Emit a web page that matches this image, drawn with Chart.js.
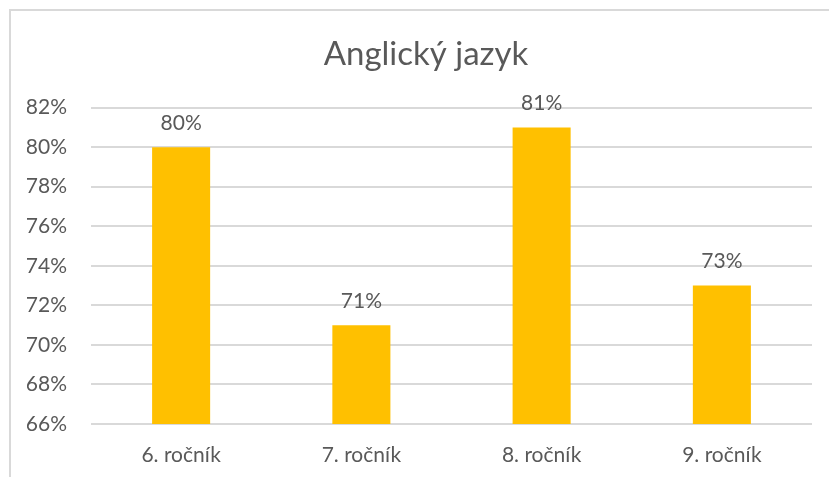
<!DOCTYPE html>
<html>
<head>
<meta charset="utf-8">
<script src="https://cdn.jsdelivr.net/npm/chart.js@4.4.1/dist/chart.umd.min.js"></script>
<style>
  html, body { margin: 0; padding: 0; background: #fff; overflow: hidden; }
  #wrap { position: relative; width: 829px; height: 477px; }
  #frame { position: absolute; left: 9px; top: 9px; width: 840px; height: 490px;
           border-left: 2px solid #d9d9d9; border-top: 2px solid #d9d9d9; box-sizing: border-box; pointer-events: none; }
  canvas { position: absolute; left: 0; top: 0; }
</style>
</head>
<body>
<div id="wrap">
  <canvas id="c" width="829" height="477"></canvas>
  <div id="frame"></div>
</div>
<script>
const titleText = "Anglický jazyk";
const categories = ["6. ročník", "7. ročník", "8. ročník", "9. ročník"];
const values = [80, 71, 81, 73];
const yMin = 66, yMax = 82, yStep = 2;

const textColor = "#595959";
const fontFamily = "Lato, 'Open Sans', sans-serif";

const dataLabels = {
  id: "dataLabels",
  afterDatasetsDraw(chart) {
    const ctx = chart.ctx;
    const meta = chart.getDatasetMeta(0);
    ctx.save();
    ctx.fillStyle = textColor;
    ctx.font = "21px " + fontFamily;
    ctx.textAlign = "center";
    ctx.textBaseline = "middle";
    meta.data.forEach((bar, i) => {
      ctx.fillText(values[i] + "%", bar.x, bar.y - 24);
    });
    ctx.restore();
  }
};

new Chart(document.getElementById("c"), {
  type: "bar",
  data: {
    labels: categories,
    datasets: [{
      data: values,
      backgroundColor: "#FFC000",
      barPercentage: 0.322,
      categoryPercentage: 1.0
    }]
  },
  options: {
    responsive: false,
    animation: false,
    devicePixelRatio: 1,
    layout: { padding: { left: 27, right: 4, top: 0, bottom: 0 } },
    plugins: {
      legend: { display: false },
      tooltip: { enabled: false },
      title: {
        display: true,
        text: titleText,
        color: textColor,
        font: { family: fontFamily, size: 33, weight: "normal" },
        padding: { top: 35, bottom: 33 }
      }
    },
    scales: {
      x: {
        grid: { display: false, drawTicks: false },
        border: { display: false },
        ticks: { color: textColor, font: { family: fontFamily, size: 21 }, padding: 19 },
        afterFit: s => { s.height = 53; s.paddingLeft = 0; s.paddingRight = 0; }
      },
      y: {
        min: yMin, max: yMax,
        grid: { color: "#d9d9d9", lineWidth: 2, drawTicks: false },
        border: { display: false },
        ticks: {
          stepSize: yStep,
          color: textColor,
          font: { family: fontFamily, size: 21 },
          padding: 24,
          callback: v => v + "%"
        },
        afterFit: s => { s.width = 64; s.paddingTop = 0; s.paddingBottom = 0; }
      },
      yRight: {
        position: "right",
        display: true,
        grid: { display: false, drawTicks: false },
        border: { display: false },
        ticks: { display: false },
        afterFit: s => { s.width = 13; s.paddingTop = 0; s.paddingBottom = 0; }
      }
    }
  },
  plugins: [dataLabels]
});
</script>
</body>
</html>
